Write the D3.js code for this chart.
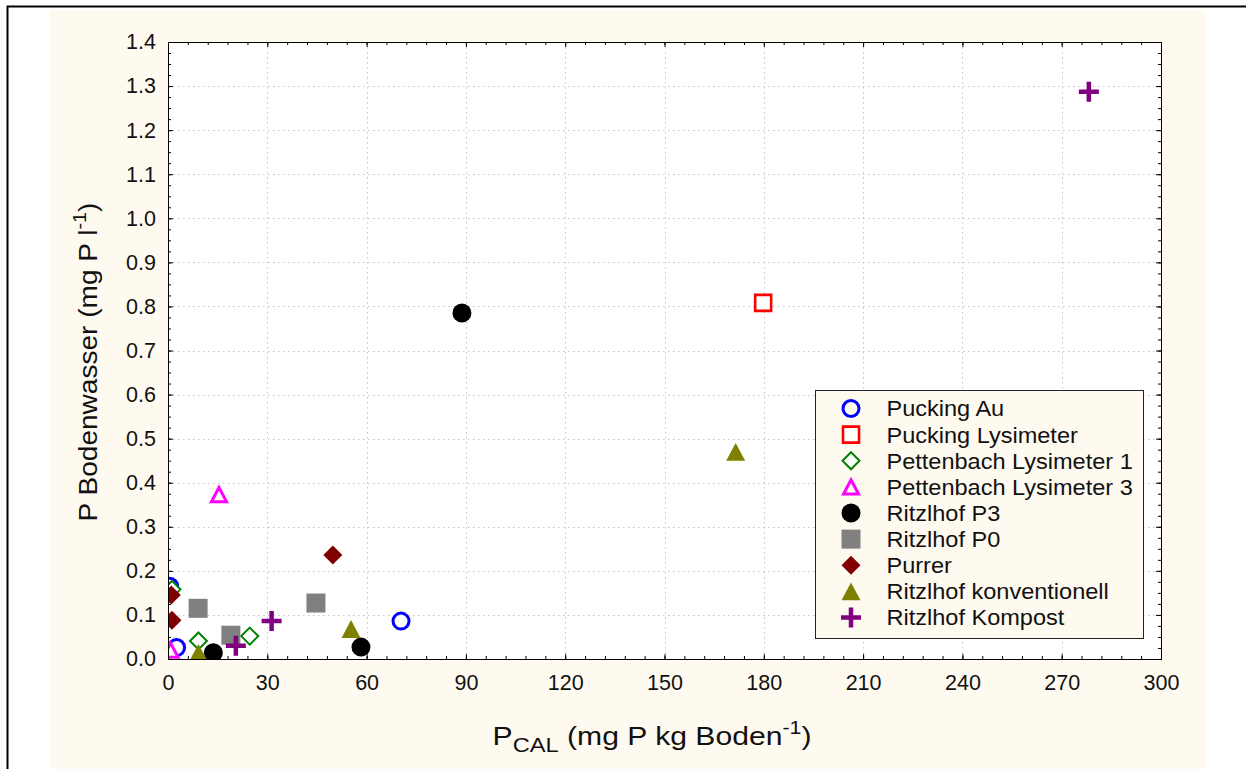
<!DOCTYPE html>
<html>
<head>
<meta charset="utf-8">
<script src="https://cdn.jsdelivr.net/npm/d3@7"></script>
<style>
  html, body { margin: 0; padding: 0; background: #ffffff; }
  svg { display: block; font-family: "Liberation Sans", Arial, sans-serif; }
</style>
</head>
<body>
<svg id="chart" width="1246" height="769"></svg>
<script>
// Measurement series: P-CAL in soil (x) vs. P in soil water (y)
const seriesNames = [
  "Pucking Au", "Pucking Lysimeter", "Pettenbach Lysimeter 1", "Pettenbach Lysimeter 3",
  "Ritzlhof P3", "Ritzlhof P0", "Purrer", "Ritzlhof konventionell", "Ritzlhof Kompost"
];
const puckingAuX = [0.5, 2.6, 70.4];
const puckingAuY = [0.165, 0.026, 0.086];
const puckingLysX = [179.8];
const puckingLysY = [0.808];
const pettenbach1X = [1.2, 9.2, 24.7];
const pettenbach1Y = [0.158, 0.041, 0.052];
const pettenbach3X = [0.8, 15.4];
const pettenbach3Y = [0.02, 0.373];
const ritzP3X = [13.7, 58.3, 88.8];
const ritzP3Y = [0.014, 0.027, 0.785];
const ritzP0X = [9.1, 19.0, 44.7];
const ritzP0Y = [0.115, 0.054, 0.127];
const purrerX = [1.0, 1.2, 49.8];
const purrerY = [0.145, 0.088, 0.236];
const ritzKonvX = [9.2, 55.3, 171.5];
const ritzKonvY = [0.014, 0.068, 0.47];
const ritzKompX = [20.5, 31.3, 278.2];
const ritzKompY = [0.03, 0.086, 1.287];

const xTicks = [0, 30, 60, 90, 120, 150, 180, 210, 240, 270, 300];
const yTicks = [0.0, 0.1, 0.2, 0.3, 0.4, 0.5, 0.6, 0.7, 0.8, 0.9, 1.0, 1.1, 1.2, 1.3, 1.4];

// Marker shapes (size = full width in px)
const shapes = {
  circle: { draw(c, s) { const r = s / 2; c.moveTo(r, 0); c.arc(0, 0, r, 0, 2 * Math.PI); } },
  square: { draw(c, s) { const h = s / 2; c.rect(-h, -h, s, s); } },
  diamond: { draw(c, s) { const h = s / 2; c.moveTo(0, -h); c.lineTo(h, 0); c.lineTo(0, h); c.lineTo(-h, 0); c.closePath(); } },
  triangle: { draw(c, s) { const h = s / 2, v = s * 0.47; c.moveTo(0, -v); c.lineTo(h, v); c.lineTo(-h, v); c.closePath(); } },
  plus: { draw(c, s) { const h = s / 2, t = 2.25; c.moveTo(-t, -h); c.lineTo(t, -h); c.lineTo(t, -t); c.lineTo(h, -t); c.lineTo(h, t); c.lineTo(t, t); c.lineTo(t, h); c.lineTo(-t, h); c.lineTo(-t, t); c.lineTo(-h, t); c.lineTo(-h, -t); c.lineTo(-t, -t); c.closePath(); } }
};

const series = [
  { name: seriesNames[0], xs: puckingAuX, ys: puckingAuY, shape: "circle", size: 16, fill: "none", stroke: "#0000ff", sw: 3 },
  { name: seriesNames[1], xs: puckingLysX, ys: puckingLysY, shape: "square", size: 16, fill: "#ffffff", stroke: "#ff0000", sw: 2.6 },
  { name: seriesNames[2], xs: pettenbach1X, ys: pettenbach1Y, shape: "diamond", size: 17, fill: "#ffffff", stroke: "#008000", sw: 2 },
  { name: seriesNames[3], xs: pettenbach3X, ys: pettenbach3Y, shape: "triangle", size: 15, fill: "#ffffff", stroke: "#ff00ff", sw: 3 },
  { name: seriesNames[4], xs: ritzP3X, ys: ritzP3Y, shape: "circle", size: 19, fill: "#000000", stroke: "none", sw: 0 },
  { name: seriesNames[5], xs: ritzP0X, ys: ritzP0Y, shape: "square", size: 19, fill: "#808080", stroke: "none", sw: 0 },
  { name: seriesNames[6], xs: purrerX, ys: purrerY, shape: "diamond", size: 19, fill: "#800000", stroke: "none", sw: 0 },
  { name: seriesNames[7], xs: ritzKonvX, ys: ritzKonvY, shape: "triangle", size: 19, fill: "#808000", stroke: "none", sw: 0 },
  { name: seriesNames[8], xs: ritzKompX, ys: ritzKompY, shape: "plus", size: 20, fill: "#800080", stroke: "none", sw: 0 }
];

const svg = d3.select("#chart");
const W = 1246, H = 769;
const plot = { left: 168, top: 42, right: 1161, bottom: 659 };
const FONT = "'Liberation Sans', Arial, sans-serif";

// Page frame and tinted panel
svg.append("rect").attr("x", 50).attr("y", 10).attr("width", 1155).attr("height", H)
  .attr("fill", "#fffaf0");
svg.append("rect").attr("x", 7.5).attr("y", 6.5).attr("width", W + 20).attr("height", H + 20)
  .attr("fill", "none").attr("stroke", "#000").attr("stroke-width", 2);

const x = d3.scaleLinear().domain([0, 300]).range([plot.left, plot.right]);
const y = d3.scaleLinear().domain([0, 1.4]).range([plot.bottom, plot.top]);

// Plot background
svg.append("rect").attr("x", plot.left).attr("y", plot.top)
  .attr("width", plot.right - plot.left).attr("height", plot.bottom - plot.top)
  .attr("fill", "#ffffff");

// Dotted grid
const grid = svg.append("g").attr("stroke", "#c4c4c4").attr("stroke-width", 1)
  .attr("stroke-dasharray", "1.5,3.5");
grid.selectAll("line.gx").data(xTicks.slice(1, -1)).join("line")
  .attr("x1", d => Math.round(x(d)) + 0.5).attr("x2", d => Math.round(x(d)) + 0.5)
  .attr("y1", plot.top).attr("y2", plot.bottom);
grid.selectAll("line.gy").data(yTicks.slice(1, -1)).join("line")
  .attr("y1", d => Math.round(y(d)) + 0.5).attr("y2", d => Math.round(y(d)) + 0.5)
  .attr("x1", plot.left).attr("x2", plot.right);

// Axes with inward ticks on all four sides
const xMinor = d3.range(0, 300.001, 6);
const yMinor = d3.range(0, 1.4001, 0.025);
function addAxis(axisGen, tx, ty, showLabels) {
  const g = svg.append("g").attr("transform", `translate(${tx},${ty})`).call(axisGen);
  g.select(".domain").remove();
  g.selectAll("line").attr("stroke", "#000");
  if (!showLabels) g.selectAll("text").remove();
  return g;
}
// minor ticks
addAxis(d3.axisBottom(x).tickValues(xMinor).tickSize(-3).tickFormat(""), 0, plot.bottom, false);
addAxis(d3.axisTop(x).tickValues(xMinor).tickSize(-3).tickFormat(""), 0, plot.top, false);
addAxis(d3.axisLeft(y).tickValues(yMinor).tickSize(-3).tickFormat(""), plot.left, 0, false);
addAxis(d3.axisRight(y).tickValues(yMinor).tickSize(-3).tickFormat(""), plot.right, 0, false);
// major ticks + labels
const xAxis = addAxis(d3.axisBottom(x).tickValues(xTicks).tickSize(-5).tickPadding(16).tickFormat(d3.format("d")), 0, plot.bottom, true);
xAxis.selectAll("text").attr("font-size", 21.5).attr("fill", "#111").attr("font-family", FONT);
addAxis(d3.axisTop(x).tickValues(xTicks).tickSize(-5).tickFormat(""), 0, plot.top, false);
const yAxis = addAxis(d3.axisLeft(y).tickValues(yTicks).tickSize(-5).tickPadding(12).tickFormat(d3.format(".1f")), plot.left, 0, true);
yAxis.selectAll("text").attr("font-size", 21.5).attr("fill", "#111").attr("font-family", FONT);
addAxis(d3.axisRight(y).tickValues(yTicks).tickSize(-5).tickFormat(""), plot.right, 0, false);

// Plot frame
svg.append("rect").attr("x", plot.left + 0.5).attr("y", plot.top + 0.5)
  .attr("width", plot.right - plot.left).attr("height", plot.bottom - plot.top)
  .attr("fill", "none").attr("stroke", "#000").attr("stroke-width", 1);

// Clip for data markers
svg.append("clipPath").attr("id", "plotClip").append("rect")
  .attr("x", plot.left + 1).attr("y", plot.top).attr("width", plot.right - plot.left)
  .attr("height", plot.bottom - plot.top);

const symbolPath = s => d3.symbol().type(shapes[s.shape]).size(s.size)();

const pts = svg.append("g").attr("clip-path", "url(#plotClip)");
series.forEach(s => {
  const data = s.xs.map((v, i) => [v, s.ys[i]]);
  pts.append("g").selectAll("path").data(data).join("path")
    .attr("d", symbolPath(s))
    .attr("transform", d => `translate(${x(d[0])},${y(d[1])})`)
    .attr("fill", s.fill).attr("stroke", s.stroke).attr("stroke-width", s.sw);
});

// Legend
const lg = svg.append("g").attr("transform", "translate(815.5,390.5)");
lg.append("rect").attr("width", 328).attr("height", 248)
  .attr("fill", "#fffaf0").attr("stroke", "#222").attr("stroke-width", 1);
const rowY = d3.scaleLinear().domain([0, series.length - 1]).range([18, 227]);
series.forEach((s, i) => {
  lg.append("path").attr("d", symbolPath(s))
    .attr("transform", `translate(35.5,${rowY(i)})`)
    .attr("fill", s.fill).attr("stroke", s.stroke).attr("stroke-width", s.sw);
  const t = lg.append("text").attr("x", 0).attr("y", 0).attr("dy", "0.36em")
    .attr("font-size", 22).attr("fill", "#111")
    .text(s.name);
  t.attr("transform", `translate(71,${rowY(i)}) scale(1.07,1)`);
});

// Axis titles, stretched horizontally to the wide label face
function stretchTo(sel, cx, cy, targetLen, rotate) {
  const w = sel.node().getBBox().width;
  const k = targetLen / w;
  sel.attr("transform", `translate(${cx},${cy})${rotate ? " rotate(-90)" : ""} scale(${k},1)`);
}
const xt = svg.append("text").attr("x", 0).attr("y", 0).attr("text-anchor", "middle")
  .attr("font-size", 25.5).attr("fill", "#111");
xt.append("tspan").text("P");
xt.append("tspan").attr("font-size", 20).attr("dy", 7).text("CAL");
xt.append("tspan").attr("dy", -7).text(" (mg P kg Boden");
xt.append("tspan").attr("font-size", 18).attr("dy", -11).text("-1");
xt.append("tspan").attr("dy", 11).text(")");
stretchTo(xt, 652, 745, 319, false);

const yt = svg.append("text").attr("x", 0).attr("y", 0)
  .attr("text-anchor", "middle").attr("font-size", 25.5).attr("fill", "#111");
yt.append("tspan").text("P Bodenwasser (mg P l");
yt.append("tspan").attr("font-size", 18).attr("dy", -11).text("-1");
yt.append("tspan").attr("dy", 11).text(")");
stretchTo(yt, 97, 362, 319, true);
</script>
</body>
</html>
